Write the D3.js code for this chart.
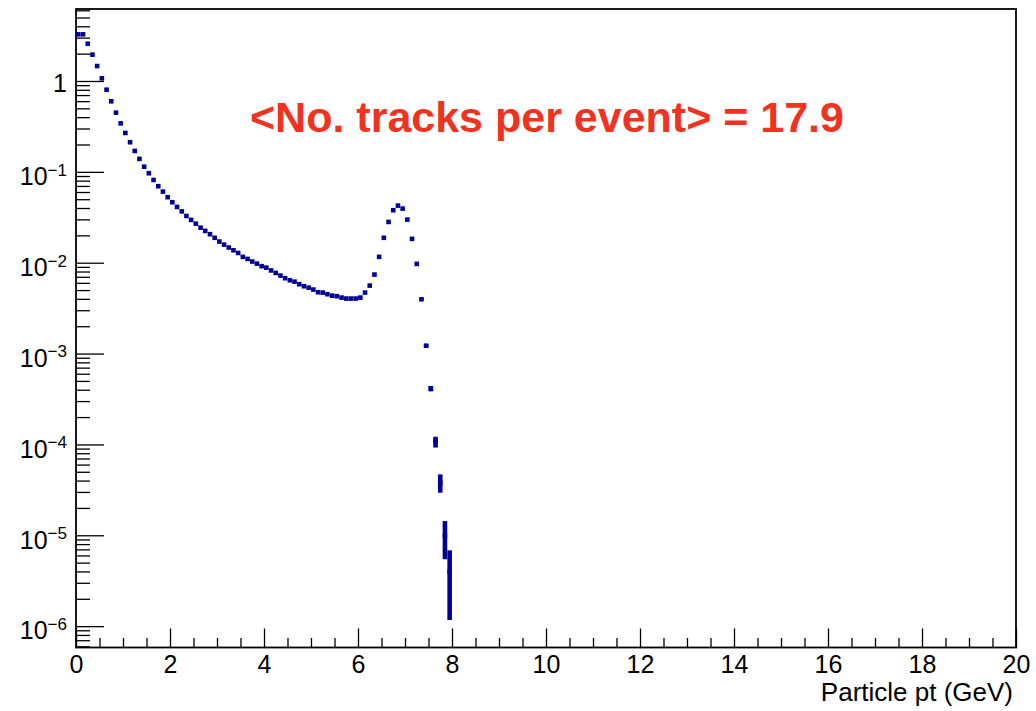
<!DOCTYPE html>
<html>
<head>
<meta charset="utf-8">
<script src="https://cdn.jsdelivr.net/npm/d3@7"></script>
<style>
  html, body { margin: 0; padding: 0; background: #ffffff; }
  svg { display: block; }
</style>
</head>
<body>
<svg id="chart" width="1036" height="711"></svg>
<script>
// ---------------- data ----------------
const binLow = 0, binWidth = 0.1;          // histogram binning (GeV)
const values = [
  3.26, 3.26, 2.57, 1.95, 1.46, 1.07, 0.802, 0.598, 0.448, 0.342,
  0.268, 0.212, 0.170, 0.139, 0.114, 0.0966, 0.0815, 0.0695, 0.0606, 0.0526,
  0.0463, 0.0411, 0.0367, 0.0327, 0.0296, 0.0269, 0.0243, 0.0224, 0.0206, 0.0188,
  0.0171, 0.0158, 0.0147, 0.0137, 0.0128, 0.0116, 0.0110, 0.0103, 0.00977, 0.00915,
  0.00883, 0.00822, 0.00772, 0.00721, 0.00675, 0.00641, 0.00619, 0.00580, 0.00551, 0.00532,
  0.00506, 0.00473, 0.00469, 0.00450, 0.00434, 0.00428, 0.00413, 0.00403, 0.00403, 0.00403,
  0.00413, 0.00469, 0.00560, 0.00740, 0.0116, 0.0188, 0.0281, 0.0378, 0.0425, 0.0394,
  0.0298, 0.0183, 0.00970, 0.00396, 0.00122, 0.000412, 0.000107, 0.0000381, 0.0000099, 0.000004
];
// visible statistical errors in the tail (bins 73..79); others are hidden under markers
const tailStart = 73;
const tailErrors = [0.000089, 0.0000494, 0.0000287, 0.0000146, 0.0000087, 0.00000445, 0.00000283];

const xDomain = [0, 20];
const yDomain = [5.82e-7, 6.2];
const xMajorTicks = [0, 2, 4, 6, 8, 10, 12, 14, 16, 18, 20];
const xMinorStep = 0.5;
const yMajorTicks = [1, 1e-1, 1e-2, 1e-3, 1e-4, 1e-5, 1e-6];
const yMajorExp = ["0", "−1", "−2", "−3", "−4", "−5", "−6"];
const xTitle = "Particle pt (GeV)";
const annotation = "<No. tracks per event> = 17.9";

// ---------------- layout ----------------
const L = 76, R = 1016, T = 9, B = 647.5;
const FONT = "'Liberation Sans', Arial, Helvetica, sans-serif";
const markerColor = "#000099";

const svg = d3.select("#chart");
const x = d3.scaleLinear().domain(xDomain).range([L, R]);
const y = d3.scaleLog().domain(yDomain).range([B, T]);

// minor y ticks 2..9 x 10^k within domain
const yMinorTicks = [];
for (let k = -7; k <= 0; k++) {
  for (let m = 2; m <= 9; m++) {
    const v = m * Math.pow(10, k);
    if (v >= yDomain[0] && v <= yDomain[1]) yMinorTicks.push(v);
  }
}
const xMinorTicks = d3.range(xDomain[0], xDomain[1] + 1e-9, xMinorStep)
  .filter(v => Math.abs(v / 2 - Math.round(v / 2)) > 1e-6);

// ---------------- axes ----------------
const gx = svg.append("g").attr("transform", `translate(0,${B})`);
gx.call(d3.axisBottom(x).tickValues(xMajorTicks).tickSize(-19).tickPadding(7.5)
  .tickFormat(d3.format("d")));
const gxm = svg.append("g").attr("transform", `translate(0,${B})`);
gxm.call(d3.axisBottom(x).tickValues(xMinorTicks).tickSize(-9.5).tickFormat(""));

const gy = svg.append("g").attr("transform", `translate(${L},0)`);
gy.call(d3.axisLeft(y).tickValues(yMajorTicks).tickSize(-28).tickPadding(9).tickFormat(""));
const gym = svg.append("g").attr("transform", `translate(${L},0)`);
gym.call(d3.axisLeft(y).tickValues(yMinorTicks).tickSize(-14).tickFormat(""));

[gx, gxm, gy, gym].forEach(g => {
  g.select(".domain").remove();
  g.selectAll(".tick line").attr("stroke", "#000").attr("stroke-width", 1.3);
});
gx.selectAll(".tick text")
  .attr("font-family", FONT).attr("font-size", 25).attr("fill", "#000");

// y tick labels: "1" and 10^k with superscript exponent
gy.selectAll(".tick text").each(function (d, i) {
  const t = d3.select(this)
    .attr("font-family", FONT).attr("font-size", 25).attr("fill", "#000")
    .attr("x", -9).attr("dy", null).attr("text-anchor", "end");
  t.text(null);
  if (d === 1) {
    t.attr("y", 10.5).text("1");
  } else {
    t.attr("y", 12.8);
    t.append("tspan").text("10");
    t.append("tspan").attr("font-size", 17).attr("dy", -9.4).text(yMajorExp[i]);
  }
});

// ---------------- frame ----------------
svg.append("rect")
  .attr("x", L).attr("y", T).attr("width", R - L).attr("height", B - T)
  .attr("fill", "none").attr("stroke", "#000").attr("stroke-width", 1.8);

// ---------------- data: error bars + markers ----------------
const bins = values.map((v, i) => ({
  c: binLow + binWidth * (i + 0.5),
  v: v,
  e: i >= tailStart ? tailErrors[i - tailStart] : 0
}));

const gData = svg.append("g");
gData.selectAll("line.err")
  .data(bins.filter(b => b.e > 0))
  .enter().append("line")
  .attr("class", "err")
  .attr("x1", b => x(b.c)).attr("x2", b => x(b.c))
  .attr("y1", b => y(b.v + b.e))
  .attr("y2", b => y(Math.max(b.v - b.e, yDomain[0])))
  .attr("stroke", markerColor).attr("stroke-width", 4.6);

const ms = 4.6;
gData.selectAll("rect.mk")
  .data(bins)
  .enter().append("rect")
  .attr("class", "mk")
  .attr("x", b => x(b.c) - ms / 2)
  .attr("y", b => y(b.v) - ms / 2)
  .attr("width", ms).attr("height", ms)
  .attr("fill", markerColor);

// ---------------- texts ----------------
svg.append("text")
  .attr("x", 1013).attr("y", 701)
  .attr("text-anchor", "end")
  .attr("font-family", FONT).attr("font-size", 26).attr("fill", "#000")
  .text(xTitle);

svg.append("text")
  .attr("x", 547).attr("y", 132)
  .attr("text-anchor", "middle")
  .attr("font-family", FONT).attr("font-size", 43).attr("font-weight", "bold")
  .attr("fill", "#f0321e")
  .text(annotation);
</script>
</body>
</html>
